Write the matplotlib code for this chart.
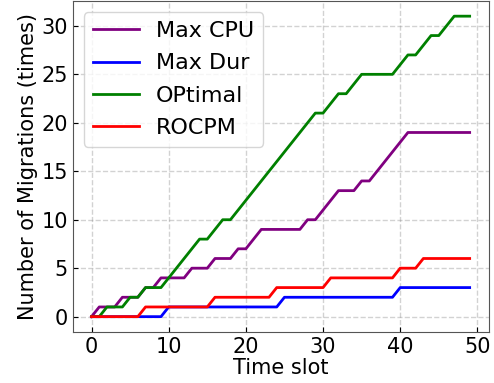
import matplotlib
matplotlib.use("Agg")
import matplotlib.pyplot as plt
import numpy as np

time_slots = np.arange(50)

max_cpu = [0, 1, 1, 1, 2, 2, 2, 3, 3, 4,
           4, 4, 4, 5, 5, 5, 6, 6, 6, 7,
           7, 8, 9, 9, 9, 9, 9, 9, 10, 10,
           11, 12, 13, 13, 13, 14, 14, 15, 16, 17,
           18, 19, 19, 19, 19, 19, 19, 19, 19, 19]

max_dur = [0] * 10 + [1] * 15 + [2] * 15 + [3] * 10

optimal = [0, 0, 1, 1, 1, 2, 2, 3, 3, 3,
           4, 5, 6, 7, 8, 8, 9, 10, 10, 11,
           12, 13, 14, 15, 16, 17, 18, 19, 20, 21,
           21, 22, 23, 23, 24, 25, 25, 25, 25, 25,
           26, 27, 27, 28, 29, 29, 30, 31, 31, 31]

rocpm = [0] * 7 + [1] * 9 + [2] * 8 + [3] * 7 + [4] * 9 + [5] * 3 + [6] * 7

series = [
    ("Max CPU", max_cpu, "purple"),
    ("Max Dur", max_dur, "blue"),
    ("OPtimal", optimal, "green"),
    ("ROCPM", rocpm, "red"),
]

fig, ax = plt.subplots(figsize=(4.94, 3.83), dpi=100)
fig.subplots_adjust(left=0.147, right=0.989, top=0.997, bottom=0.134)

for name, values, color in series:
    ax.plot(time_slots, values, color=color, linewidth=2, label=name)

ax.grid(True, linestyle="--", color="gray", alpha=0.35, linewidth=1)
ax.set_xticks([0, 10, 20, 30, 40, 50])
ax.set_yticks([0, 5, 10, 15, 20, 25, 30])
ax.tick_params(direction="in", labelsize=15)
ax.set_xlabel("Time slot", fontsize=15, labelpad=1)
ax.set_ylabel("Number of Migrations (times)", fontsize=15, labelpad=2)
for spine in ax.spines.values():
    spine.set_color("#555555")

ax.legend(loc="upper left", fontsize=16, handlelength=2.1, handletextpad=0.75,
          labelspacing=0.55, borderaxespad=0.5)

fig.savefig("out.png", dpi=100)
